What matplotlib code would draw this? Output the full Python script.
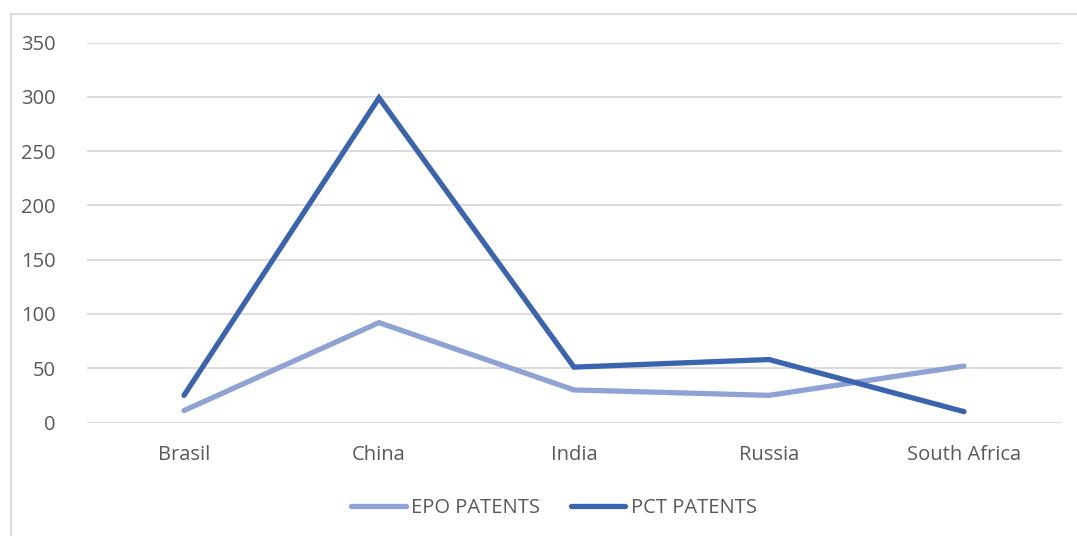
import matplotlib
matplotlib.use("Agg")
import matplotlib.pyplot as plt
from matplotlib.lines import Line2D

countries = ["Brasil", "China", "India", "Russia", "South Africa"]
epo_patents = [11, 92, 30, 25, 52]
pct_patents = [25, 299, 51, 58, 10]
y_ticks = [0, 50, 100, 150, 200, 250, 300, 350]

plt.rcParams["font.family"] = ["Open Sans", "DejaVu Sans"]
text_color = "#595959"
epo_color = "#8FA2D4"
pct_color = "#3A64AD"

W, H = 1077, 536
fig = plt.figure(figsize=(W / 100, H / 100), dpi=100)
fig.patch.set_facecolor("white")

# chart frame: left and top edges, running off the canvas
frame_x, frame_y = 10.5 / W, 1 - 13.5 / H
fig.add_artist(Line2D([frame_x, frame_x], [-0.01, frame_y], transform=fig.transFigure,
                      color="#D9D9D9", linewidth=1.3))
fig.add_artist(Line2D([frame_x, 1.01], [frame_y, frame_y], transform=fig.transFigure,
                      color="#D9D9D9", linewidth=1.3))

left, right = 86.5 / W, 1061.5 / W
top, bottom = 1 - 42.5 / H, 1 - 422.5 / H
ax = fig.add_axes([left, bottom, right - left, top - bottom])

x = list(range(len(countries)))
ax.plot(x, epo_patents, color=epo_color, linewidth=3.8,
        solid_capstyle="round", solid_joinstyle="miter", zorder=3)
ax.plot(x, pct_patents, color=pct_color, linewidth=3.8,
        solid_capstyle="round", solid_joinstyle="miter", zorder=4)

ax.set_xlim(-0.5, len(countries) - 0.5)
ax.set_ylim(0, 350)
ax.set_yticks(y_ticks)
ax.set_xticks(x)
ax.set_xticklabels(countries)
ax.grid(axis="y", color="#D9D9D9", linewidth=1.3)
ax.set_axisbelow(True)
for s in ax.spines.values():
    s.set_visible(False)
ax.tick_params(axis="both", length=0, labelsize=14.5, labelcolor=text_color)
ax.tick_params(axis="y", pad=22)
ax.tick_params(axis="x", pad=16)

handles = [Line2D([0], [0], color=epo_color, linewidth=3.8, solid_capstyle="round"),
           Line2D([0], [0], color=pct_color, linewidth=3.8, solid_capstyle="round")]
fig.legend(handles, ["EPO PATENTS", "PCT PATENTS"], loc="center",
           bbox_to_anchor=(554 / W, 1 - 508 / H), ncol=2, frameon=False,
           fontsize=14.5, labelcolor=text_color, handlelength=2.7,
           handletextpad=0.25, columnspacing=1.55)

fig.savefig("out.png", dpi=100)
